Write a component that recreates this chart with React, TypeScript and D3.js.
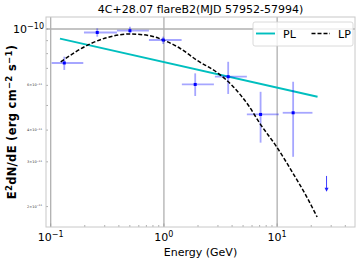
import React, { useEffect } from "react";
import * as d3 from "d3";

// SED points (GeV, erg cm^-2 s^-1)
const energy = [0.1318, 0.2577, 0.501, 0.986, 1.889, 3.694, 7.14, 13.84];
const eLow = [0.102, 0.1967, 0.3848, 0.737, 1.44, 2.819, 5.4, 11.2];
const eHigh = [0.194, 0.3848, 0.737, 1.433, 2.763, 5.4, 10.35, 20.5];
const flux = [7.35e-11, 9.69e-11, 9.85e-11, 9.05e-11, 6.05e-11, 6.49e-11, 4.61e-11, 4.68e-11];
const fluxLow = [6.9e-11, 9.33e-11, 9.62e-11, 8.73e-11, 5.45e-11, 5.55e-11, 3.57e-11, 3.14e-11];
const fluxHigh = [7.78e-11, 1.006e-10, 1.021e-10, 9.33e-11, 6.69e-11, 7.43e-11, 5.66e-11, 6.2e-11];

// upper limit bin
const ulEnergy = [27.3];
const ulFlux = [2.64e-11];
const ulArrowEnd = [2.29e-11];

// power law model (endpoints)
const plEnergy = [0.1208, 22.73];
const plFlux = [9.16e-11, 5.41e-11];

// log parabola model
const lpEnergy = [0.1226, 0.2222, 0.312, 0.501, 0.752, 0.986, 1.384, 1.943, 3.015, 4.09, 5.55, 7.04, 9.88, 13.84, 18.18, 22.54];
const lpFlux = [7.43e-11, 8.73e-11, 9.24e-11, 9.56e-11, 9.41e-11, 9.05e-11, 8.4e-11, 7.55e-11, 6.69e-11, 5.93e-11, 5.02e-11, 4.25e-11, 3.44e-11, 2.7e-11, 2.19e-11, 1.82e-11];

const xMajor = [0.1, 1, 10];
const xMajorExp = ["\u22121", "0", "1"];
const yMinorLabelled = [6e-11, 4e-11, 3e-11, 2e-11];
const yMinorDigit = ["6", "4", "3", "2"];

const title = "4C+28.07 flareB2(MJD 57952-57994)";

const App: React.FC = () => {
    useEffect(() => {
        document.body.style.margin = "0";
    }, []);

    const width = 360;
    const height = 263;
    const margin = { top: 17, right: 5, bottom: 36, left: 46 };
    const x0 = margin.left;
    const x1 = width - margin.right;
    const y0 = margin.top;
    const y1 = height - margin.bottom;

    const xScale = d3.scaleLog().domain([0.0909, 48.7]).range([x0, x1]);
    const yScale = d3.scaleLog().domain([1.662e-11, 1.115e-10]).range([y1, y0]);

    const xTicks = xScale.ticks();
    const yTicks = yScale.ticks();

    const line = d3
        .line<[number, number]>()
        .x((d) => xScale(d[0]))
        .y((d) => yScale(d[1]));

    const plPath = line(plEnergy.map((e, i) => [e, plFlux[i]]));
    const lpPath = line.curve(d3.curveMonotoneX)(lpEnergy.map((e, i) => [e, lpFlux[i]]));

    const font = "DejaVu Sans, sans-serif";
    const errColor = "rgba(0,0,255,0.35)";
    const gridColor = "#b0b0b0";
    const spineColor = "#c8c8c8";

    return (
        <div style={{ position: "absolute", left: 0, top: 0 }}>
            <svg width={width} height={height} style={{ display: "block", background: "#fff" }} fontFamily={font}>
                {/* grid */}
                {xMajor.map((t) => (
                    <line key={"gx" + t} x1={xScale(t)} x2={xScale(t)} y1={y0} y2={y1} stroke={gridColor} strokeWidth={1.3} />
                ))}
                <line x1={x0} x2={x1} y1={yScale(1e-10)} y2={yScale(1e-10)} stroke={gridColor} strokeWidth={1.3} />

                {/* minor / major ticks */}
                {xTicks.map((t, i) => {
                    const major = xMajor.some((m) => Math.abs(m - t) < 1e-9);
                    return (
                        <line key={"tx" + i} x1={xScale(t)} x2={xScale(t)} y1={y1} y2={y1 - (major ? 3.5 : 2)} stroke="#999" strokeWidth={0.8} />
                    );
                })}
                {yTicks.map((t, i) => (
                    <line key={"ty" + i} x1={x0} x2={x0 + 2} y1={yScale(t)} y2={yScale(t)} stroke="#999" strokeWidth={0.8} />
                ))}

                {/* frame */}
                <rect x={x0} y={y0} width={x1 - x0} height={y1 - y0} fill="none" stroke={spineColor} strokeWidth={1} />

                {/* power law */}
                <path d={plPath || ""} fill="none" stroke="#00bfbf" strokeWidth={1.9} />

                {/* error bars */}
                {energy.map((e, i) => (
                    <g key={"pt" + i}>
                        <line x1={xScale(eLow[i])} x2={xScale(eHigh[i])} y1={yScale(flux[i])} y2={yScale(flux[i])} stroke={errColor} strokeWidth={1.8} />
                        <line x1={xScale(e)} x2={xScale(e)} y1={yScale(fluxLow[i])} y2={yScale(fluxHigh[i])} stroke={errColor} strokeWidth={1.8} />
                    </g>
                ))}

                {/* log parabola */}
                <path d={lpPath || ""} fill="none" stroke="#000" strokeWidth={1.5} strokeDasharray="4,2" />

                {/* points */}
                {energy.map((e, i) => (
                    <rect key={"m" + i} x={xScale(e) - 1.5} y={yScale(flux[i]) - 1.5} width={3} height={3} fill="#0000ff" />
                ))}

                {/* upper limit */}
                {ulEnergy.map((e, i) => {
                    const xx = xScale(e);
                    const ya = yScale(ulFlux[i]);
                    const yb = yScale(ulArrowEnd[i]);
                    return (
                        <g key={"ul" + i}>
                            <line x1={xx} x2={xx} y1={ya} y2={yb - 3} stroke="#4040ff" strokeWidth={1} />
                            <path d={`M${xx - 2},${yb - 4} L${xx + 2},${yb - 4} L${xx},${yb} Z`} fill="#2020ff" />
                        </g>
                    );
                })}

                {/* legend */}
                <rect x={253} y={22} width={100} height={24} rx={2} fill="#fff" fillOpacity={0.8} stroke="#d0d0d0" strokeWidth={0.8} />
                <line x1={256} x2={275} y1={33.5} y2={33.5} stroke="#00bfbf" strokeWidth={1.9} />
                <text x={283} y={37.5} fontSize={11}>PL</text>
                <line x1={311.5} x2={330} y1={33.5} y2={33.5} stroke="#000" strokeWidth={1.5} strokeDasharray="4,2" />
                <text x={338} y={37.5} fontSize={11}>LP</text>

                {/* x tick labels */}
                {xMajor.map((t, i) => (
                    <text key={"xl" + t} x={xScale(t)} y={y1 + 14} fontSize={11} textAnchor="middle">
                        10<tspan dy={-4.5} fontSize={8}>{xMajorExp[i]}</tspan>
                    </text>
                ))}

                {/* y tick labels */}
                <text x={x0 - 2} y={yScale(1e-10) + 4} fontSize={11} textAnchor="end">
                    10<tspan dy={-4.5} fontSize={8}>{"\u221210"}</tspan>
                </text>
                {yMinorLabelled.map((t, i) => (
                    <text key={"yl" + i} x={x0 - 4} y={yScale(t) + 1} fontSize={3.5} textAnchor="end" fill="#333">
                        {yMinorDigit[i] + "\u00d710"}
                        <tspan dy={-1.2} fontSize={2.5}>{"\u221211"}</tspan>
                    </text>
                ))}

                {/* axis labels */}
                <text x={(x0 + x1) / 2} y={y1 + 29} fontSize={11} textAnchor="middle">Energy (GeV)</text>
                <text transform={`translate(16,${(y0 + y1) / 2}) rotate(-90)`} fontSize={11.5} fontWeight={600} textAnchor="middle" letterSpacing={0.3}>
                    E<tspan dy={-4.5} fontSize={8.5}>2</tspan>
                    <tspan dy={4.5}>dN/dE (erg cm</tspan>
                    <tspan dy={-4.5} fontSize={8.5}>{"\u22122"}</tspan>
                    <tspan dy={4.5}> s</tspan>
                    <tspan dy={-4.5} fontSize={8.5}>{"\u22121"}</tspan>
                    <tspan dy={4.5}>)</tspan>
                </text>

                {/* title */}
                <text x={(x0 + x1) / 2} y={13} fontSize={11} textAnchor="middle">{title}</text>
            </svg>
        </div>
    );
};

export default App;
